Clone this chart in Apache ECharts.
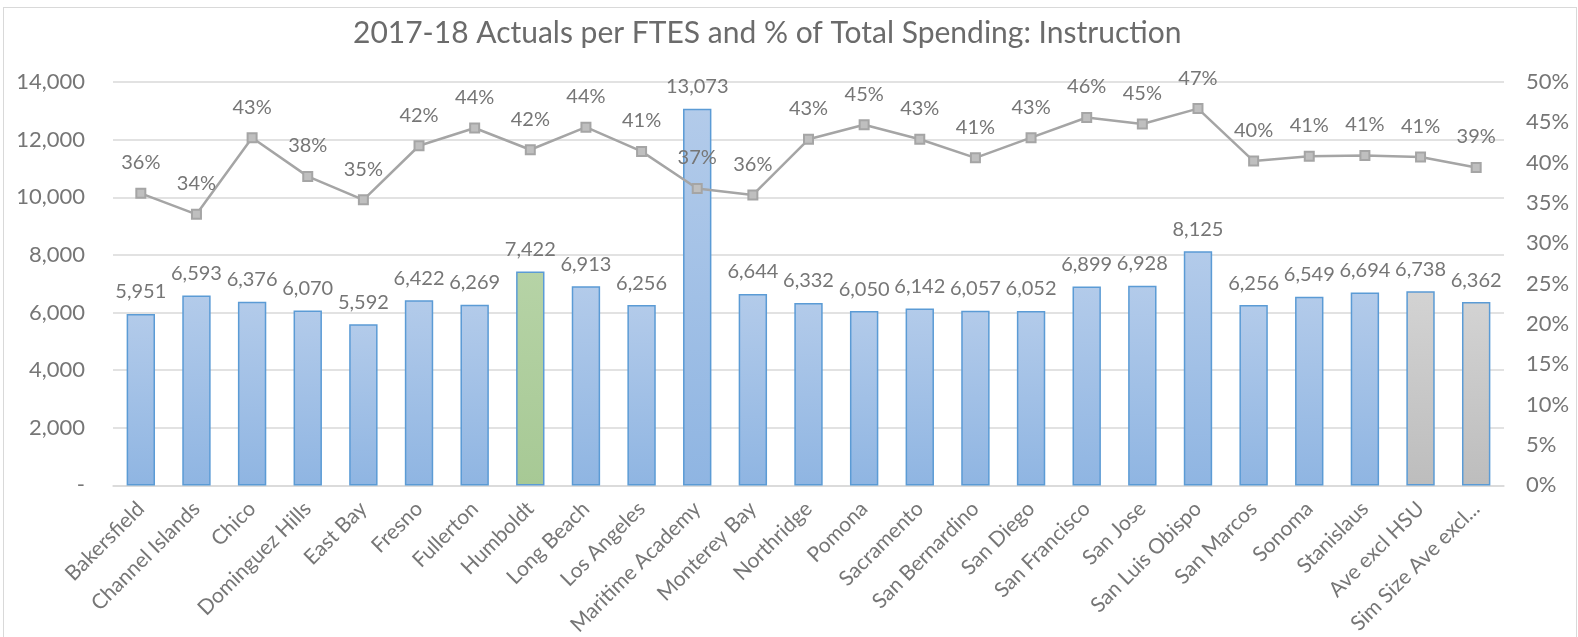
<html>
    <head>
        <meta charset="utf-8">
        <script src='https://cdn.jsdelivr.net/npm/echarts@6/dist/echarts.min.js'></script>
    </head>
    <body>
        <style>
            html, body {
                width: 100%;
                height: 100%;
                margin: 0;
                background: #fff;
            }
            #main {
                position: absolute;
                left: 3px; top: 7px;
                width: 1572px; height: 630px;
                border: 1.5px solid #d9d9d9;
                border-bottom: none;
            }
        </style>
        <div id='main'></div>
        <script>
            var campuses = ['Bakersfield', 'Channel Islands', 'Chico', 'Dominguez Hills', 'East Bay', 'Fresno',
                'Fullerton', 'Humboldt', 'Long Beach', 'Los Angeles', 'Maritime Academy', 'Monterey Bay',
                'Northridge', 'Pomona', 'Sacramento', 'San Bernardino', 'San Diego', 'San Francisco',
                'San Jose', 'San Luis Obispo', 'San Marcos', 'Sonoma', 'Stanislaus', 'Ave excl HSU',
                'Sim Size Ave excl...'];
            var perFtes = [5951, 6593, 6376, 6070, 5592, 6422, 6269, 7422, 6913, 6256, 13073, 6644,
                6332, 6050, 6142, 6057, 6052, 6899, 6928, 8125, 6256, 6549, 6694, 6738, 6362];
            var pctSpending = [36.2, 33.6, 43.1, 38.3, 35.4, 42.1, 44.3, 41.6, 44.4, 41.4, 36.8, 36.0,
                42.9, 44.7, 42.9, 40.6, 43.1, 45.6, 44.8, 46.7, 40.2, 40.8, 40.9, 40.7, 39.4];

            var font = 'Lato, "Open Sans", sans-serif';
            var textCol = '#767676';

            function grad(top, bottom) {
                return new echarts.graphic.LinearGradient(0, 0, 0, 1, [
                    { offset: 0, color: top }, { offset: 1, color: bottom }
                ]);
            }
            var blueFill = grad('#b3cbea', '#8fb5e2');
            var greenFill = grad('#b6d3a6', '#a7c995');
            var greyFill = grad('#d3d3d3', '#bdbdbd');

            var barData = perFtes.map(function (v, i) {
                var fill = blueFill;
                if (campuses[i] === 'Humboldt') fill = greenFill;
                if (i >= campuses.length - 2) fill = greyFill;
                return { value: v, itemStyle: { color: fill } };
            });

            var chart = echarts.init(document.getElementById('main'));

            var option = {
                animation: false,
                textStyle: { fontFamily: font },
                title: {
                    text: '2017-18 Actuals per FTES and % of Total Spending: Instruction',
                    left: 344,
                    top: 5,
                    textStyle: { fontFamily: font, fontSize: 30, fontWeight: 'normal', color: '#6b6b6b' }
                },
                grid: { left: 109, right: 72, top: 74, bottom: 143 },
                xAxis: {
                    type: 'category',
                    data: campuses,
                    axisTick: { show: false },
                    axisLine: { lineStyle: { color: '#d9d9d9', width: 1.5 } },
                    axisLabel: {
                        rotate: 45,
                        interval: 0,
                        color: textCol,
                        fontSize: 21,
                        fontFamily: font,
                        margin: 20
                    }
                },
                yAxis: [{
                    type: 'value',
                    min: 0, max: 14000, interval: 2000,
                    axisLine: { show: false },
                    axisTick: { show: false },
                    splitLine: { lineStyle: { color: '#d9d9d9', width: 1.5 } },
                    axisLabel: {
                        color: textCol, fontSize: 22, fontFamily: font, margin: 28,
                        formatter: function (v) { return v === 0 ? '-' : v.toLocaleString('en-US'); }
                    }
                }, {
                    type: 'value',
                    min: 0, max: 50, interval: 5,
                    axisLine: { show: false },
                    axisTick: { show: false },
                    splitLine: { show: false },
                    axisLabel: {
                        color: textCol, fontSize: 22, fontFamily: font, margin: 22,
                        formatter: '{value}%'
                    }
                }],
                series: [{
                    type: 'bar',
                    data: barData,
                    barWidth: '51%',
                    itemStyle: { borderColor: '#5b9bd5', borderWidth: 1.5 },
                    label: {
                        show: true,
                        position: 'top',
                        distance: 12,
                        color: textCol,
                        fontSize: 20,
                        fontFamily: font,
                        formatter: function (p) { return p.value.toLocaleString('en-US'); }
                    }
                }, {
                    type: 'line',
                    yAxisIndex: 1,
                    data: pctSpending,
                    symbol: 'rect',
                    symbolSize: 9,
                    lineStyle: { color: '#a5a5a5', width: 2.5 },
                    itemStyle: { color: '#bfbfbf', borderColor: '#a5a5a5', borderWidth: 2 },
                    label: {
                        show: true,
                        position: 'top',
                        distance: 15,
                        color: textCol,
                        fontSize: 20,
                        fontFamily: font,
                        formatter: function (p) { return Math.round(p.value) + '%'; }
                    },
                    z: 5
                }]
            };

            chart.setOption(option);
            window.onresize = chart.resize;
        </script>
    </body>
</html>
